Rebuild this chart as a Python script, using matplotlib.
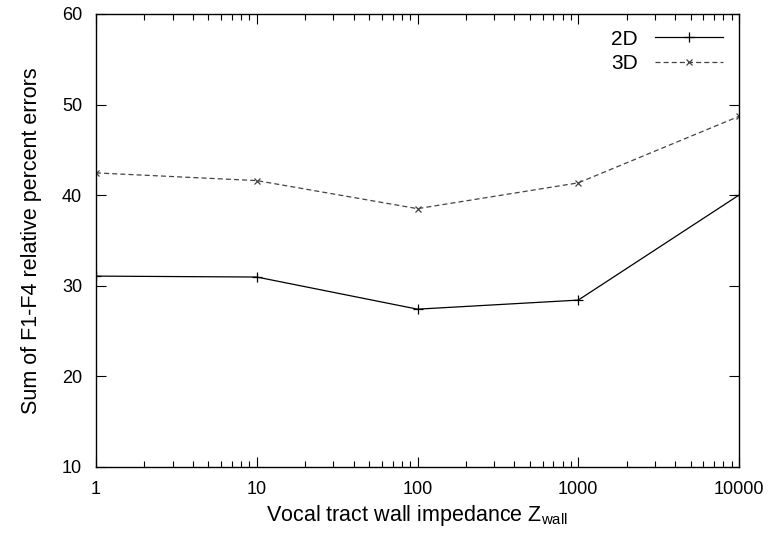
import matplotlib
matplotlib.use("Agg")
import matplotlib.pyplot as plt
from matplotlib.ticker import LogLocator, FixedLocator, NullFormatter

plt.rcParams['font.family'] = ['Liberation Sans', 'DejaVu Sans']
plt.rcParams['mathtext.fontset'] = 'custom'
plt.rcParams['mathtext.rm'] = 'Liberation Sans'

impedance = [1, 10, 100, 1000, 10000]
err_2d = [31.05, 30.95, 27.4, 28.4, 40.0]
err_3d = [42.45, 41.6, 38.5, 41.35, 48.7]
xtick_labels = ['1', '10', '100', '1000', '10000']
yticks = [10, 20, 30, 40, 50, 60]

fig = plt.figure(figsize=(7.75, 5.4), dpi=100)
ax = fig.add_axes([96/775, 1-466.7/540, (739-96)/775, (466.7-14)/540])

ax.plot(impedance, err_2d, color='black', lw=0.9, marker='+', ms=7, mew=0.9, label='2D')
ax.plot(impedance, err_3d, color='#444444', lw=0.9, ls=(0, (4, 2.5)), marker='x', ms=5, mew=0.9, label='3D')

ax.set_xscale('log')
ax.set_xlim(1, 10000)
ax.set_ylim(10, 60)
ax.xaxis.set_major_locator(FixedLocator(impedance))
ax.set_xticklabels(xtick_labels)
ax.xaxis.set_minor_locator(LogLocator(base=10, subs=range(2, 10)))
ax.xaxis.set_minor_formatter(NullFormatter())
ax.set_yticks(yticks)
ax.tick_params(which='both', direction='in', top=True, right=True, labelsize=13, pad=10)
ax.tick_params(which='major', length=7, width=0.8)
ax.tick_params(which='minor', length=4, width=0.8)
for s in ax.spines.values():
    s.set_linewidth(1.0)

ax.set_xlabel('Vocal tract wall impedance Z$_{\\mathrm{wall}}$', fontsize=15.5, labelpad=4)
ax.set_ylabel('Sum of F1-F4 relative percent errors', fontsize=15.5, labelpad=14)

leg = ax.legend(loc='upper right', frameon=False, markerfirst=False, fontsize=15,
                handlelength=3.3, handletextpad=0.8, labelspacing=0.25,
                borderaxespad=0.35)

fig.savefig('out.png', dpi=100)
